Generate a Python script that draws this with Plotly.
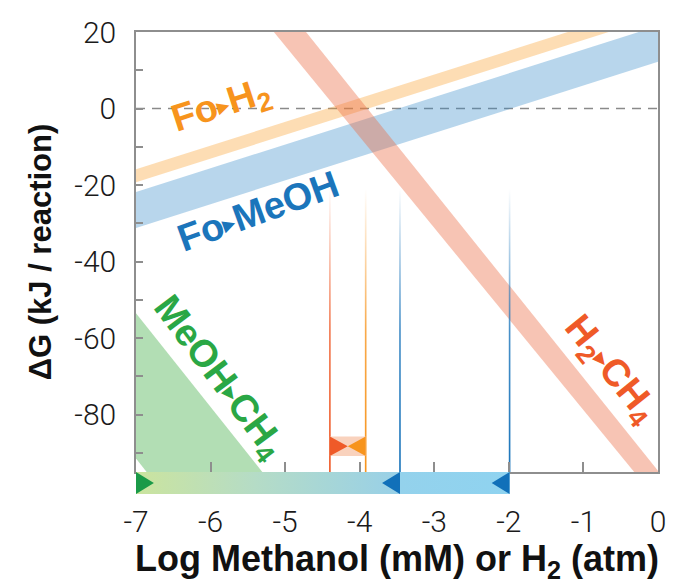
import plotly.graph_objects as go

# ---------------- data ----------------
X_RANGE = [-7, 0]
Y_RANGE = [-95, 20]
X_TICKS = [-7, -6, -5, -4, -3, -2, -1, 0]
X_TICKTEXT = ["-7", "-6", "-5", "-4", "-3", "-2", "-1", "0"]
Y_TICKS = [-80, -60, -40, -20, 0, 20]
Y_TICKTEXT = ["-80", "-60", "-40", "-20", "0", "20"]
Y_MINOR = [-90, -70, -50, -30, -10, 10]
ZERO_LINE = [0, 0]

# band edges: dG value at x = -7 and x = 0 (lower edge, upper edge)
FO_H2_LOW = [-19.3, 24.1]
FO_H2_HIGH = [-15.9, 27.5]
FO_MEOH_LOW = [-31.2, 12.2]
FO_MEOH_HIGH = [-21.8, 21.6]
H2_CH4_LOW = [64.0, -102.6]
H2_CH4_HIGH = [75.4, -94.7]
MEOH_CH4_LOW = [-91.5, -263.0]
MEOH_CH4_HIGH = [-53.5, -225.0]

# measured concentration ranges (log units)
H2_RANGE = [-4.40, -3.92]
MEOH_RANGE = [-3.46, -1.99]
FADE_Y = [-95, -21]
HOURGLASS_Y = [-90.8, -85.7]
GRADIENT_BAR = [-7, -3.46]
SOLID_BAR = [-3.46, -1.99]
ARROW_W = 0.24

TRI = '<span style="font-size:15px;baseline-shift:5px">▶</span>'
# labels: text, x, y, angle, color
LABELS = [
    ("Fo" + TRI + "H<sub>2</sub>", -5.86, 0.4, -18, "#f7941d"),
    ("Fo" + TRI + "MeOH", -5.36, -26.8, -20, "#1b75bb"),
    ("MeOH" + TRI + "CH<sub>4</sub>", -5.90, -70.5, 53, "#2aa745"),
    ("H<sub>2</sub>" + TRI + "CH<sub>4</sub>", -0.64, -68.3, 51, "#ef5a28"),
]

AX = "#8e8e8e"
TICKFONT = dict(family="Roboto", size=30, color="#1a1a1a", weight=300)
YTITLEFONT = dict(family="Liberation Sans", size=31, color="#111111", weight="bold")
XTITLEFONT = dict(family="Liberation Sans", size=36, color="#111111", weight="bold")

fig = go.Figure()

# zero dashed line
fig.add_trace(go.Scatter(x=X_RANGE, y=ZERO_LINE, mode="lines",
                         line=dict(color="#8a8a8a", width=1.5, dash="9px,7px"),
                         hoverinfo="skip", showlegend=False))


def band(low, high, color):
    xs = [X_RANGE[0], X_RANGE[1], X_RANGE[1], X_RANGE[0], X_RANGE[0]]
    ys = [low[0], low[1], high[1], high[0], low[0]]
    fig.add_trace(go.Scatter(x=xs, y=ys, mode="lines", fill="toself",
                             fillcolor=color, line=dict(width=0),
                             hoverinfo="skip", showlegend=False))


band(MEOH_CH4_LOW, MEOH_CH4_HIGH, "rgba(62,172,67,0.40)")
band(FO_H2_LOW, FO_H2_HIGH, "rgba(249,158,41,0.35)")
band(FO_MEOH_LOW, FO_MEOH_HIGH, "rgba(52,138,201,0.35)")
band(H2_CH4_LOW, H2_CH4_HIGH, "rgba(235,108,68,0.40)")


# fading vertical lines
def fade_line(xv, rgb):
    w = 0.011
    fig.add_trace(go.Scatter(
        x=[xv - w, xv + w, xv + w, xv - w, xv - w],
        y=[FADE_Y[0], FADE_Y[0], FADE_Y[1], FADE_Y[1], FADE_Y[0]],
        mode="lines", fill="toself", line=dict(width=0),
        fillgradient=dict(type="vertical", start=FADE_Y[0], stop=FADE_Y[1],
                          colorscale=[[0, f"rgba({rgb},1)"], [0.5, f"rgba({rgb},0.8)"],
                                      [1, f"rgba({rgb},0)"]]),
        hoverinfo="skip", showlegend=False))


fade_line(H2_RANGE[0], "239,90,40")
fade_line(H2_RANGE[1], "247,148,29")
fade_line(MEOH_RANGE[0], "27,117,187")
fade_line(MEOH_RANGE[1], "27,117,187")

# hourglass marker between H2 range lines
mid_x = (H2_RANGE[0] + H2_RANGE[1]) / 2
mid_y = (HOURGLASS_Y[0] + HOURGLASS_Y[1]) / 2
fig.add_trace(go.Scatter(
    x=[H2_RANGE[0], H2_RANGE[1], H2_RANGE[1], H2_RANGE[0], H2_RANGE[0]],
    y=[HOURGLASS_Y[0], HOURGLASS_Y[0], HOURGLASS_Y[1], HOURGLASS_Y[1], HOURGLASS_Y[0]],
    mode="lines", fill="toself", fillcolor="#f9d2bd", line=dict(width=0),
    hoverinfo="skip", showlegend=False))
fig.add_trace(go.Scatter(
    x=[H2_RANGE[0], mid_x, H2_RANGE[0], H2_RANGE[0]],
    y=[HOURGLASS_Y[0], mid_y, HOURGLASS_Y[1], HOURGLASS_Y[0]],
    mode="lines", fill="toself", fillcolor="#ef5a28", line=dict(width=0),
    hoverinfo="skip", showlegend=False))
fig.add_trace(go.Scatter(
    x=[H2_RANGE[1], mid_x, H2_RANGE[1], H2_RANGE[1]],
    y=[HOURGLASS_Y[0], mid_y, HOURGLASS_Y[1], HOURGLASS_Y[0]],
    mode="lines", fill="toself", fillcolor="#f7941d", line=dict(width=0),
    hoverinfo="skip", showlegend=False))

# bottom concentration bar (on y2)
fig.add_trace(go.Scatter(
    x=[GRADIENT_BAR[0], GRADIENT_BAR[1], GRADIENT_BAR[1], GRADIENT_BAR[0], GRADIENT_BAR[0]],
    y=[0, 0, 1, 1, 0], xaxis="x2", yaxis="y2",
    mode="lines", fill="toself", line=dict(width=0),
    fillgradient=dict(type="horizontal",
                      colorscale=[[0, "#cbe49e"], [0.45, "#b5dcc6"], [1, "#98d0e8"]]),
    hoverinfo="skip", showlegend=False))
fig.add_trace(go.Scatter(
    x=[SOLID_BAR[0], SOLID_BAR[1], SOLID_BAR[1], SOLID_BAR[0], SOLID_BAR[0]],
    y=[0, 0, 1, 1, 0], xaxis="x2", yaxis="y2",
    mode="lines", fill="toself", line=dict(width=0),
    fillgradient=dict(type="horizontal",
                      colorscale=[[0, "#94d2ec"], [1, "#8fd3f0"]]),
    hoverinfo="skip", showlegend=False))


def arrow(base_x, direction, color):
    tip = base_x + direction * ARROW_W
    fig.add_trace(go.Scatter(
        x=[base_x, tip, base_x, base_x], y=[0, 0.5, 1, 0], xaxis="x2", yaxis="y2",
        mode="lines", fill="toself", fillcolor=color, line=dict(width=0),
        hoverinfo="skip", showlegend=False))


arrow(GRADIENT_BAR[0], 1, "#1a9a48")
arrow(MEOH_RANGE[0], -1, "#1170b9")
arrow(MEOH_RANGE[1], -1, "#1170b9")

for text, lx, ly, ang, col in LABELS:
    fig.add_annotation(x=lx, y=ly, xref="x", yref="y", text=text, textangle=ang,
                       showarrow=False, xanchor="center", yanchor="middle",
                       font=dict(family="Liberation Sans", size=38, color=col, weight="bold"))

BAR_FRAC = 22 / 462

fig.update_layout(
    width=673, height=584,
    margin=dict(l=136, r=15, t=32, b=90, autoexpand=False),
    paper_bgcolor="white", plot_bgcolor="white",
    showlegend=False,
    xaxis=dict(domain=[0, 1], range=X_RANGE, anchor="y", showline=True, linecolor=AX,
               linewidth=1.5, mirror=True, ticks="inside", ticklen=10, tickwidth=1.5,
               tickcolor=AX, tickvals=X_TICKS, showticklabels=False,
               showgrid=False, zeroline=False, automargin=False),
    xaxis2=dict(domain=[0, 1], range=X_RANGE, anchor="y2", matches="x", showline=False,
                ticks="", tickvals=X_TICKS, ticktext=X_TICKTEXT, tickfont=TICKFONT,
                ticklabelstandoff=7, showgrid=False, zeroline=False, automargin=False,
                title=dict(text="Log Methanol (mM) or H<sub>2</sub> (atm)", font=XTITLEFONT,
                           standoff=16)),
    yaxis=dict(domain=[BAR_FRAC, 1], range=Y_RANGE, anchor="x", showline=True, linecolor=AX,
               linewidth=1.5, mirror=True, ticks="inside", ticklen=7, tickwidth=1.5,
               tickcolor=AX, tickvals=Y_TICKS, ticktext=Y_TICKTEXT, tickfont=TICKFONT,
               ticklabelstandoff=12, showgrid=False, zeroline=False, automargin=False,
               minor=dict(tickvals=Y_MINOR, ticks="inside", ticklen=7, tickwidth=1.5,
                          tickcolor=AX, showgrid=False),
               title=dict(text="ΔG (kJ / reaction)", font=YTITLEFONT, standoff=14)),
    yaxis2=dict(domain=[0, BAR_FRAC], range=[0, 1], anchor="x2", visible=False,
                fixedrange=True, automargin=False),
)

fig.write_html("out.html")
